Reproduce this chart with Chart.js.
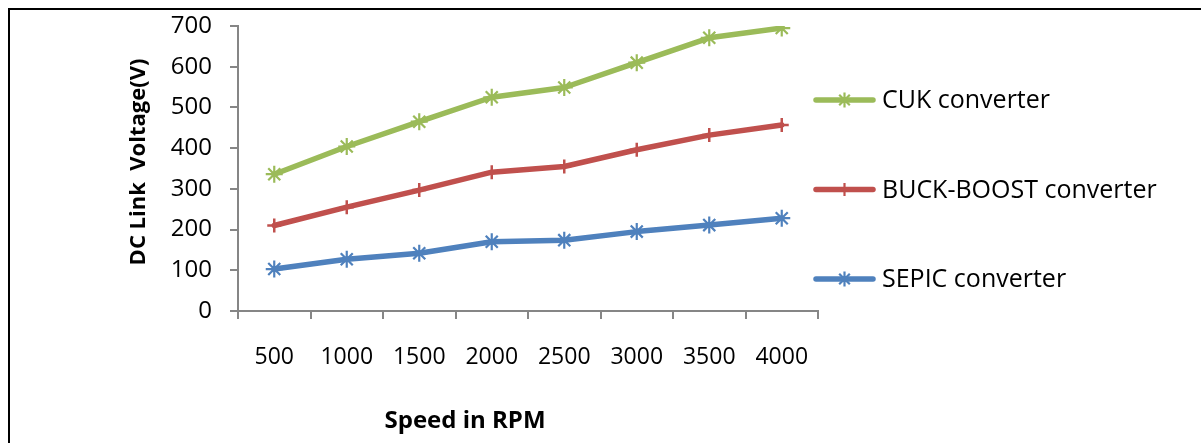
<!DOCTYPE html>
<html>
<head>
<meta charset="utf-8">
<script src="https://cdn.jsdelivr.net/npm/chart.js@4/dist/chart.umd.min.js"></script>
<style>
  html, body { margin: 0; padding: 0; background: #fff; }
  #wrap { position: relative; width: 1201px; height: 443px; overflow: hidden; }
  #frame { position: absolute; left: 8px; top: 8px; width: 1300px; height: 500px;
           border-top: 2px solid #000; border-left: 2px solid #000; box-sizing: border-box; }
  canvas { position: absolute; left: 0; top: 0; }
</style>
</head>
<body>
<div id="wrap">
  <div id="frame"></div>
  <canvas id="c" width="1201" height="443"></canvas>
</div>
<script>
const categories = ['500', '1000', '1500', '2000', '2500', '3000', '3500', '4000'];
const seriesNames = ['CUK converter', 'BUCK-BOOST converter', 'SEPIC converter'];
const cukValues = [336, 404, 465, 525, 549, 610, 671, 695];
const buckBoostValues = [210, 255, 297, 341, 355, 396, 432, 457];
const sepicValues = [103, 127, 142, 170, 174, 195, 211, 228];
const yTicks = [0, 100, 200, 300, 400, 500, 600, 700];
const xTitle = 'Speed in RPM';
const yTitle = 'DC Link  Voltage(V)';

const FONT = "'Open Sans', 'DejaVu Sans', sans-serif";
const AXIS_GREY = '#868686';

function drawMarker(ctx, style, x, y, r, color, lw) {
  ctx.save();
  ctx.strokeStyle = color;
  ctx.lineWidth = lw;
  ctx.beginPath();
  ctx.moveTo(x, y - r); ctx.lineTo(x, y + r);
  ctx.moveTo(x - r, y); ctx.lineTo(x + r, y);
  if (style === 'star') {
    const d = r * Math.SQRT1_2;
    ctx.moveTo(x - d, y - d); ctx.lineTo(x + d, y + d);
    ctx.moveTo(x - d, y + d); ctx.lineTo(x + d, y - d);
  }
  ctx.stroke();
  ctx.restore();
}

const customDecor = {
  id: 'customDecor',
  afterDraw(chart) {
    const ctx = chart.ctx;
    const area = chart.chartArea;
    const lx0 = area.right - 2, lx1 = area.right + 55, tx = area.right + 64;
    const top = 100, step = 89.5;
    chart.data.datasets.forEach((ds, i) => {
      const y = top + i * step;
      ctx.save();
      ctx.strokeStyle = ds.borderColor;
      ctx.lineWidth = 5.5;
      ctx.lineCap = 'round';
      ctx.beginPath(); ctx.moveTo(lx0, y); ctx.lineTo(lx1, y); ctx.stroke();
      ctx.restore();
      drawMarker(ctx, ds.pointStyle, (lx0 + lx1) / 2, y, ds.pointStyle === 'star' ? 7.5 : 6.5, ds.borderColor, 2.2);
      ctx.save();
      ctx.fillStyle = '#000';
      ctx.font = "25px " + FONT;
      ctx.textBaseline = 'middle';
      ctx.textAlign = 'left';
      ctx.fillText(ds.label, tx, y + 1);
      ctx.restore();
    });
    ctx.save();
    ctx.fillStyle = '#000';
    ctx.font = "bold 24px " + FONT;
    ctx.textAlign = 'center';
    ctx.textBaseline = 'alphabetic';
    ctx.fillText(xTitle, 465, 428);
    ctx.translate(145, 162);
    ctx.rotate(-Math.PI / 2);
    ctx.font = "bold 22px " + FONT;
    ctx.fillText(yTitle, 0, 0);
    ctx.restore();
  }
};

new Chart(document.getElementById('c'), {
  type: 'line',
  data: {
    labels: categories,
    datasets: [
      { label: seriesNames[0], data: cukValues, borderColor: '#9BBB59', backgroundColor: '#9BBB59',
        pointStyle: 'star', pointRadius: 8.5, pointBorderWidth: 2.2, pointBorderColor: '#9BBB59' },
      { label: seriesNames[1], data: buckBoostValues, borderColor: '#C0504D', backgroundColor: '#C0504D',
        pointStyle: 'cross', pointRadius: 7, pointBorderWidth: 2.5, pointBorderColor: '#C0504D' },
      { label: seriesNames[2], data: sepicValues, borderColor: '#4F81BD', backgroundColor: '#4F81BD',
        pointStyle: 'star', pointRadius: 8.5, pointBorderWidth: 2.2, pointBorderColor: '#4F81BD' }
    ]
  },
  options: {
    responsive: false,
    animation: false,
    devicePixelRatio: 1,
    layout: { padding: { left: 0, right: 383, top: 26, bottom: 0 } },
    elements: {
      line: { borderWidth: 5.5, tension: 0, borderJoinStyle: 'round', borderCapStyle: 'round', fill: false },
      point: { hoverRadius: 8 }
    },
    plugins: {
      legend: { display: false },
      tooltip: { enabled: false },
      title: { display: false }
    },
    scales: {
      x: {
        type: 'category',
        offset: true,
        grid: { offset: true, drawOnChartArea: false, drawTicks: true, tickLength: 8, color: AXIS_GREY, lineWidth: 2 },
        border: { display: true, color: AXIS_GREY, width: 2 },
        ticks: { color: '#000', font: { family: FONT, size: 23 }, padding: 25, maxRotation: 0, autoSkip: false },
        afterFit(scale) { scale.height = 132; }
      },
      y: {
        min: 0, max: 700,
        afterBuildTicks(scale) { scale.ticks = yTicks.map(v => ({ value: v })); },
        grid: { drawOnChartArea: false, drawTicks: true, tickLength: 8, color: AXIS_GREY, lineWidth: 2 },
        border: { display: true, color: AXIS_GREY, width: 2 },
        ticks: { color: '#000', font: { family: FONT, size: 24, lineHeight: 0.5 }, padding: 18 },
        afterFit(scale) { scale.width = 238; }
      }
    }
  },
  plugins: [customDecor]
});
</script>
</body>
</html>
